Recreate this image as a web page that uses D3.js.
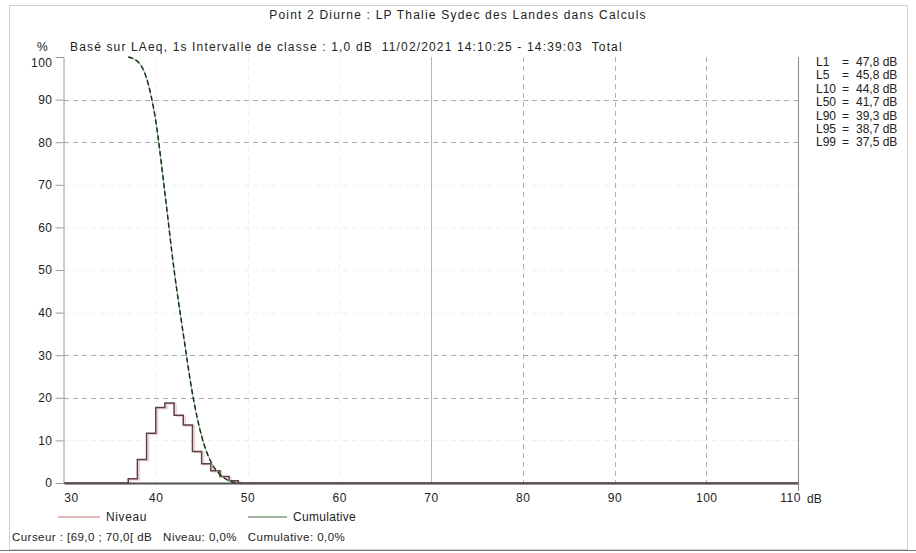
<!DOCTYPE html>
<html>
<head>
<meta charset="utf-8">
<script src="https://cdn.jsdelivr.net/npm/d3@7"></script>
<style>
  body { margin: 0; background: #fff; }
  text { font-family: "Liberation Sans", Arial, sans-serif; fill: #222; }
</style>
</head>
<body>
<svg id="chart" width="916" height="553"></svg>
<script>
// class lower edges (dB) and percentage of time in each 1 dB class
var niveauDb  = [37, 38, 39, 40, 41, 42, 43, 44, 45, 46, 47, 48];
var niveauPct = [1.0, 5.5, 11.7, 17.7, 18.8, 15.9, 13.6, 7.4, 4.5, 2.9, 1.5, 0.5];

// cumulative curve (% of time above level)
var cumDb  = [37, 38, 39, 40, 41, 42, 43, 44, 45, 46, 47, 48, 49];
var cumPct = [100, 99, 95, 85, 68, 50, 35, 21, 11, 5, 2, 0.5, 0];

// percentile table on the right
var statNames  = ["L1", "L5", "L10", "L50", "L90", "L95", "L99"];
var statValues = ["47,8 dB", "45,8 dB", "44,8 dB", "41,7 dB", "39,3 dB", "38,7 dB", "37,5 dB"];

var xTicks = [30, 40, 50, 60, 70, 80, 90, 100, 110];
var yTicks = [0, 10, 20, 30, 40, 50, 60, 70, 80, 90, 100];
var gridY = [20, 30, 80, 90];
var gridYFaint = [10, 40, 50, 60, 70];
var gridX = [80, 90, 100];
var gridXFaint = [40, 50, 60];
var cursorDb = 70;

var title = "Point 2 Diurne : LP Thalie Sydec des Landes dans Calculs";
var subtitle = "Basé sur LAeq, 1s Intervalle de classe : 1,0 dB  11/02/2021 14:10:25 - 14:39:03  Total";
var status = "Curseur : [69,0 ; 70,0[ dB   Niveau: 0,0%   Cumulative: 0,0%";

var svg = d3.select("#chart");

var x = d3.scaleLinear().domain([30, 110]).range([64, 798]);
var y = d3.scaleLinear().domain([0, 100]).range([483, 57]);

//outer frame
svg.append("rect")
  .attr("x", 9.5).attr("y", 5.5)
  .attr("width", 898).attr("height", 544)
  .attr("fill", "none").attr("stroke", "#cfcfcf");
svg.append("line")
  .attr("x1", 0).attr("x2", 916).attr("y1", 550.5).attr("y2", 550.5)
  .attr("stroke", "#777");

//titles
svg.append("text").attr("x", 458).attr("y", 19)
  .attr("text-anchor", "middle").attr("font-size", 12)
  .attr("letter-spacing", 1.2).text(title);
svg.append("text").attr("x", 70).attr("y", 51)
  .attr("font-size", 12).attr("letter-spacing", 1.15)
  .attr("xml:space", "preserve").style("white-space", "pre").text(subtitle);
svg.append("text").attr("x", 37).attr("y", 51)
  .attr("font-size", 12).text("%");

//faint grid
svg.selectAll(".gyf").data(gridYFaint).enter().append("line")
  .attr("x1", x(30)).attr("x2", x(110))
  .attr("y1", function(d) { return Math.round(y(d)) + 0.5; })
  .attr("y2", function(d) { return Math.round(y(d)) + 0.5; })
  .attr("stroke", "#f0f0f0").attr("stroke-dasharray", "5,4");
svg.selectAll(".gxf").data(gridXFaint).enter().append("line")
  .attr("y1", y(100)).attr("y2", y(0))
  .attr("x1", function(d) { return Math.round(x(d)) + 0.5; })
  .attr("x2", function(d) { return Math.round(x(d)) + 0.5; })
  .attr("stroke", "#f0f0f0").attr("stroke-dasharray", "5,4");

//grid
svg.selectAll(".gy").data(gridY).enter().append("line")
  .attr("x1", x(30)).attr("x2", x(110))
  .attr("y1", function(d) { return Math.round(y(d)) + 0.5; })
  .attr("y2", function(d) { return Math.round(y(d)) + 0.5; })
  .attr("stroke", "#a8a8a8").attr("stroke-dasharray", "5,4");
svg.selectAll(".gx").data(gridX).enter().append("line")
  .attr("y1", y(100)).attr("y2", y(0) + 5)
  .attr("x1", function(d) { return Math.round(x(d)) + 0.5; })
  .attr("x2", function(d) { return Math.round(x(d)) + 0.5; })
  .attr("stroke", "#b0b0b0").attr("stroke-dasharray", "5,4");

//cursor line
svg.append("line")
  .attr("x1", Math.round(x(cursorDb)) + 0.5).attr("x2", Math.round(x(cursorDb)) + 0.5)
  .attr("y1", y(100)).attr("y2", y(0))
  .attr("stroke", "#b8b8b8");

//left axis
var yAxis = svg.append("g")
  .attr("transform", "translate(" + (x(30) - 0.5) + ",0)")
  .call(d3.axisLeft(y).tickValues(yTicks).tickSize(8).tickPadding(3));
yAxis.select(".domain").attr("stroke", "#9a9a9a");
yAxis.selectAll(".tick line").attr("stroke", "#9a9a9a");
yAxis.selectAll(".tick text")
  .attr("font-size", 12).attr("fill", "#222").attr("letter-spacing", 0.5)
  .attr("font-family", "Liberation Sans, Arial, sans-serif")
  .attr("dy", function(d) { return d == 100 ? "0.75em" : "0.32em"; });
yAxis.selectAll(".tick").filter(function(d) { return d == 0 || d == 100; })
  .select("line").remove();

//right border of the plot
svg.append("line")
  .attr("x1", x(110) + 0.5).attr("x2", x(110) + 0.5)
  .attr("y1", y(100)).attr("y2", y(0) + 8)
  .attr("stroke", "#8a8a8a");

//histogram (step line) with its pinkish halo
var stepPts = [{d: 30, p: 0}];
niveauDb.forEach(function(d, i) { stepPts.push({d: d, p: niveauPct[i]}); });
stepPts.push({d: niveauDb[niveauDb.length - 1] + 1, p: 0});
stepPts.push({d: 110, p: 0});

var step = d3.line()
  .x(function(d) { return x(d.d); })
  .y(function(d) { return y(d.p); })
  .curve(d3.curveStepAfter);

svg.append("path").datum(stepPts)
  .attr("fill", "none").attr("stroke", "#f3cccc").attr("stroke-width", 1.5)
  .attr("transform", "translate(2,1)")
  .attr("d", step);
svg.append("path").datum(stepPts)
  .attr("fill", "none").attr("stroke", "#5a4048").attr("stroke-width", 1.5)
  .attr("d", step);

//cumulative curve: green line under black dashes
var cumPts = cumDb.map(function(d, i) { return {d: d, p: cumPct[i]}; });
var cumLine = d3.line()
  .x(function(d) { return x(d.d); })
  .y(function(d) { return y(d.p); })
  .curve(d3.curveMonotoneX);

svg.append("path").datum(cumPts)
  .attr("fill", "none").attr("stroke", "#6fbf6f").attr("stroke-width", 1)
  .attr("d", cumLine);
svg.append("path").datum(cumPts)
  .attr("fill", "none").attr("stroke", "#1e2a1e").attr("stroke-width", 1.5)
  .attr("stroke-dasharray", "5,3")
  .attr("d", cumLine);

//bottom axis
var xAxis = svg.append("g")
  .attr("transform", "translate(0," + y(0) + ")")
  .call(d3.axisBottom(x).tickValues(xTicks).tickSize(0).tickPadding(10));
xAxis.select(".domain").attr("stroke", "#505050").attr("stroke-width", 2);
xAxis.selectAll(".tick text")
  .attr("font-size", 12).attr("fill", "#222").attr("letter-spacing", 0.5)
  .attr("font-family", "Liberation Sans, Arial, sans-serif")
  .attr("dx", function(d) { return d == 30 ? 7 : (d == 110 ? -8 : 0); });
svg.append("text").attr("x", x(110) + 9).attr("y", y(0) + 20)
  .attr("font-size", 12).text("dB");

//percentile table
var stats = svg.append("g");
statNames.forEach(function(n, i) {
  var ty = 66 + i * 13.4;
  stats.append("text").attr("x", 816).attr("y", ty).attr("font-size", 12).text(n);
  stats.append("text").attr("x", 842).attr("y", ty).attr("font-size", 12).text("=");
  stats.append("text").attr("x", 856).attr("y", ty).attr("font-size", 12).text(statValues[i]);
});

//legend
var legY = 517;
svg.append("line").attr("x1", 58).attr("x2", 100).attr("y1", legY).attr("y2", legY)
  .attr("stroke", "#c87272").attr("stroke-width", 1.2);
svg.append("text").attr("x", 106).attr("y", legY + 4).attr("font-size", 12)
  .attr("letter-spacing", 0.6).text("Niveau");
svg.append("line").attr("x1", 248).attr("x2", 287).attr("y1", legY).attr("y2", legY)
  .attr("stroke", "#3d6e3d").attr("stroke-width", 1.2);
svg.append("text").attr("x", 293).attr("y", legY + 4).attr("font-size", 12)
  .attr("letter-spacing", 0.3).text("Cumulative");

//cursor status
svg.append("text").attr("x", 12).attr("y", 541).attr("font-size", 11.5)
  .attr("letter-spacing", 0.45)
  .attr("xml:space", "preserve").style("white-space", "pre").text(status);
</script>
</body>
</html>
